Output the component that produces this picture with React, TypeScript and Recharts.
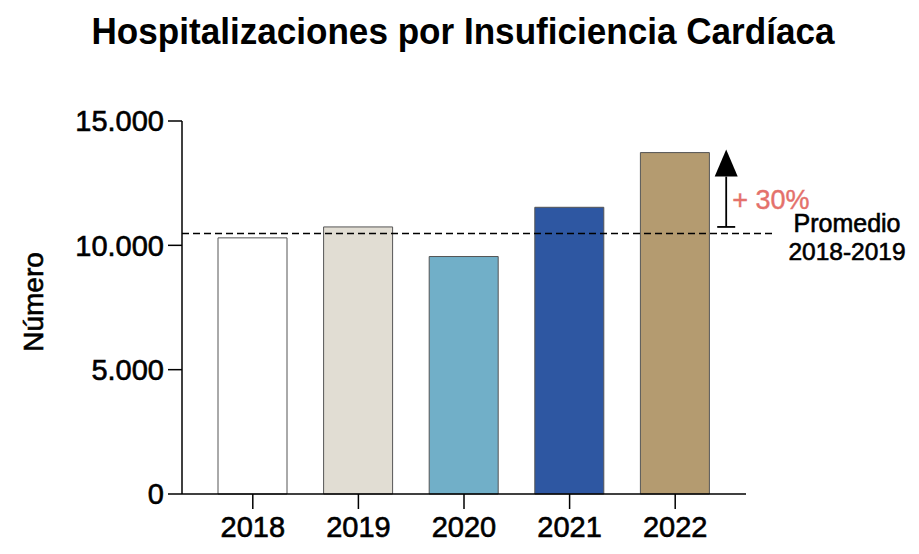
import React from 'react';
import { BarChart, Bar, XAxis, YAxis, Cell, ReferenceLine } from 'recharts';

const years = ['2018', '2019', '2020', '2021', '2022'];
const hospitalizaciones = [10300, 10740, 9550, 11530, 13730];
const barColors = ['#ffffff', '#e1ddd3', '#71afc8', '#2e57a2', '#b49b70'];
const yTicks = [0, 5000, 10000, 15000];
const PROMEDIO = 10480;
const ARROW_YEAR = '2022';
const ARROW_FROM = 10740;
const ARROW_TO = 13850;
const TITLE = 'Hospitalizaciones por Insuficiencia Cardíaca';
const Y_LABEL = 'Número';
const INCREASE_LABEL = '+ 30%';
const PROMEDIO_LINES = ['Promedio', '2018-2019'];

const data = years.map((y, i) => ({ year: y, value: hospitalizaciones[i] }));
const FONT = '"Liberation Sans", Arial, Helvetica, sans-serif';
const THICK = { stroke: '#000', strokeWidth: 0.6 };

const fmt = (v: number) => (v === 0 ? '0' : v.toLocaleString('de-DE'));

const DashedPromedio = (props: any) => {
  const { x1, y1, x2 } = props;
  return (
    <g>
      <line x1={x1} y1={y1} x2={x2 + 30} y2={y1} stroke="#000" strokeWidth={1.5} strokeDasharray="7 4" />
      <text x={x2 + 101} y={y1 - 1} textAnchor="middle" fontFamily={FONT} fontSize={25} fill="#000" {...THICK}>
        {PROMEDIO_LINES[0]}
      </text>
      <text x={x2 + 101} y={y1 + 27} textAnchor="middle" fontFamily={FONT} fontSize={24.5} fill="#000" {...THICK}>
        {PROMEDIO_LINES[1]}
      </text>
    </g>
  );
};

const ArrowShape = (props: any) => {
  const { x1, y1, y2 } = props;
  const ax = x1 + 51;
  const bottom = Math.max(y1, y2);
  const top = Math.min(y1, y2);
  const headH = 27;
  return (
    <g>
      <line x1={ax} y1={top + headH} x2={ax} y2={bottom} stroke="#000" strokeWidth={1.8} />
      <line x1={ax - 9} y1={bottom} x2={ax + 9} y2={bottom} stroke="#000" strokeWidth={1.8} />
      <polygon points={`${ax},${top} ${ax - 11.5},${top + headH} ${ax + 11.5},${top + headH}`} fill="#000" />
      <text
        x={ax + 6}
        y={bottom - 18}
        textAnchor="start"
        fontFamily={FONT}
        fontSize={27}
        fill="#e4716b"
        stroke="#e4716b"
        strokeWidth={0.4}
      >
        {INCREASE_LABEL}
      </text>
    </g>
  );
};

export default function App() {
  return (
    <div style={{ position: 'absolute', left: 0, top: 0, width: 919, height: 554, background: '#fff' }}>
      <BarChart
        width={919}
        height={554}
        data={data}
        margin={{ top: 121, right: 173, bottom: 0, left: 82 }}
        barSize={69}
      >
        <XAxis
          dataKey="year"
          height={60}
          padding={{ left: 18, right: 18 }}
          axisLine={{ stroke: '#000', strokeWidth: 1.5 }}
          tickLine={{ stroke: '#000', strokeWidth: 1.5 }}
          tickSize={15}
          tickMargin={7}
          tick={{ fill: '#000', fontSize: 29, fontFamily: FONT, ...THICK }}
        />
        <YAxis
          width={100}
          domain={[0, 15000]}
          ticks={yTicks}
          tickFormatter={fmt}
          axisLine={{ stroke: '#000', strokeWidth: 1.5 }}
          tickLine={{ stroke: '#000', strokeWidth: 1.5 }}
          tickSize={14}
          tickMargin={4}
          tick={{ fill: '#000', fontSize: 29, fontFamily: FONT, ...THICK }}
        />
        <Bar dataKey="value" stroke="#555" strokeWidth={1} isAnimationActive={false}>
          {data.map((d, i) => (
            <Cell key={d.year} fill={barColors[i]} />
          ))}
        </Bar>
        <ReferenceLine y={PROMEDIO} shape={DashedPromedio} />
        <ReferenceLine
          segment={[
            { x: ARROW_YEAR, y: ARROW_FROM },
            { x: ARROW_YEAR, y: ARROW_TO },
          ]}
          shape={ArrowShape}
        />
      </BarChart>
      <svg width={919} height={554} style={{ position: 'absolute', left: 0, top: 0, pointerEvents: 'none' }}>
        <text
          x={463}
          y={44}
          textAnchor="middle"
          fontFamily={FONT}
          fontWeight="bold"
          fontSize={37}
          textLength={743}
          lengthAdjust="spacingAndGlyphs"
          fill="#000"
        >
          {TITLE}
        </text>
        <text
          x={0}
          y={0}
          transform="translate(43,302) rotate(-90)"
          textAnchor="middle"
          fontFamily={FONT}
          fontSize={28}
          fill="#000"
          {...THICK}
        >
          {Y_LABEL}
        </text>
      </svg>
    </div>
  );
}
